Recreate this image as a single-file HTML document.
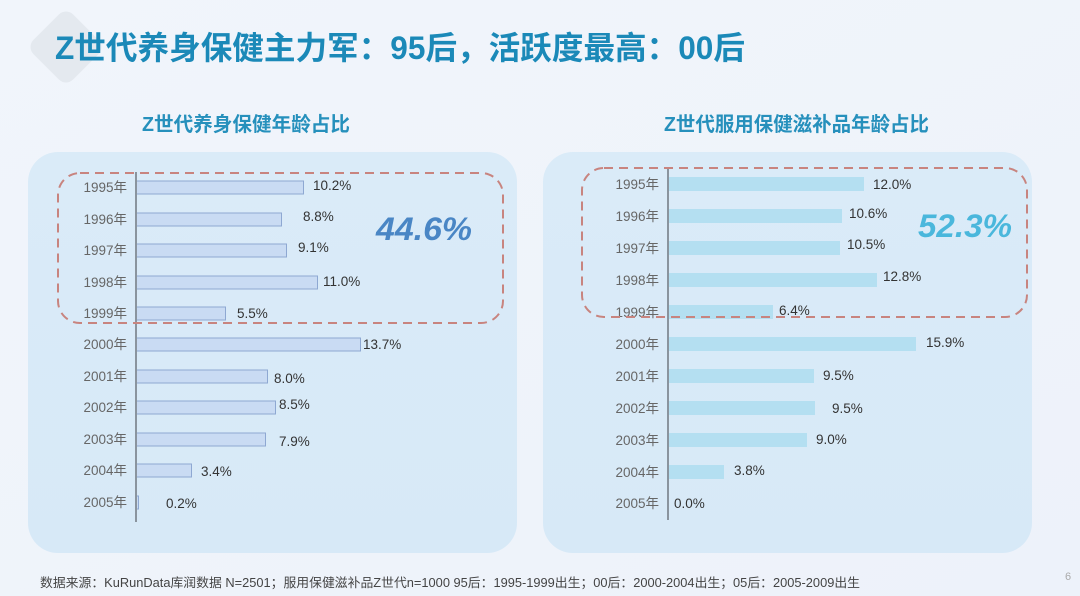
<!DOCTYPE html>
<html><head><meta charset="utf-8">
<style>
html,body{margin:0;padding:0;background:#eef3fa;}
svg{display:block;}
text{font-family:"Liberation Sans","Noto Sans CJK SC",sans-serif;}
</style></head>
<body>
<svg width="1080" height="596" viewBox="0 0 1080 596" xmlns="http://www.w3.org/2000/svg">
<defs>
<linearGradient id="bg" x1="0" y1="0" x2="1" y2="1">
<stop offset="0" stop-color="#f1f5fb"/><stop offset="1" stop-color="#edf2fa"/>
</linearGradient>
<linearGradient id="pn" x1="0" y1="0" x2="0" y2="1">
<stop offset="0" stop-color="#daebf8"/><stop offset="1" stop-color="#d7e9f7"/>
</linearGradient>
</defs>
<rect x="0" y="0" width="1080" height="596" fill="url(#bg)"/>
<!-- diamond deco -->
<rect x="38" y="19" width="56" height="56" rx="10" fill="#e4e9ef" transform="rotate(45 66 47)"/>
<!-- title -->
<text x="55" y="59" font-size="32" font-weight="bold" fill="#1b89b8" textLength="690" lengthAdjust="spacingAndGlyphs">Z世代养身保健主力军：95后，活跃度最高：00后</text>
<!-- subtitles -->
<text x="142" y="131" font-size="20" font-weight="bold" fill="#2690bc" textLength="208" lengthAdjust="spacingAndGlyphs">Z世代养身保健年龄占比</text>
<text x="664" y="131" font-size="20" font-weight="bold" fill="#2690bc" textLength="265" lengthAdjust="spacingAndGlyphs">Z世代服用保健滋补品年龄占比</text>
<!-- panels -->
<rect x="28" y="152" width="489" height="401" rx="30" fill="url(#pn)"/>
<rect x="543" y="152" width="489" height="401" rx="30" fill="url(#pn)"/>

<!-- LEFT CHART -->
<g font-size="13.5" fill="#666" text-anchor="end">
<text x="127" y="192">1995年</text>
<text x="127" y="224">1996年</text>
<text x="127" y="255">1997年</text>
<text x="127" y="287">1998年</text>
<text x="127" y="318">1999年</text>
<text x="127" y="349">2000年</text>
<text x="127" y="381">2001年</text>
<text x="127" y="412">2002年</text>
<text x="127" y="444">2003年</text>
<text x="127" y="475">2004年</text>
<text x="127" y="507">2005年</text>
</g>
<g fill="#c9dbf3" stroke="#8ea8d2" stroke-width="1">
<rect x="136.5" y="181" width="167" height="13"/>
<rect x="136.5" y="213" width="145" height="13"/>
<rect x="136.5" y="244" width="150" height="13"/>
<rect x="136.5" y="276" width="181" height="13"/>
<rect x="136.5" y="307" width="89" height="13"/>
<rect x="136.5" y="338" width="224" height="13"/>
<rect x="136.5" y="370" width="131" height="13"/>
<rect x="136.5" y="401" width="139" height="13"/>
<rect x="136.5" y="433" width="129" height="13"/>
<rect x="136.5" y="464" width="55" height="13"/>
<rect x="136.5" y="496" width="2" height="13"/>
</g>
<line x1="136" y1="172" x2="136" y2="522" stroke="#8a949e" stroke-width="2"/>
<g font-size="13.5" fill="#333">
<text x="313" y="190">10.2%</text>
<text x="303" y="221">8.8%</text>
<text x="298" y="252">9.1%</text>
<text x="323" y="286">11.0%</text>
<text x="237" y="318">5.5%</text>
<text x="363" y="349">13.7%</text>
<text x="274" y="383">8.0%</text>
<text x="279" y="409">8.5%</text>
<text x="279" y="446">7.9%</text>
<text x="201" y="476">3.4%</text>
<text x="166" y="508">0.2%</text>
</g>
<rect x="58" y="173" width="445" height="150" rx="22" fill="none" stroke="#c8847f" stroke-width="2" stroke-dasharray="9 6"/>
<text x="376" y="240" font-size="32" font-weight="bold" font-style="italic" fill="#4a86c5" textLength="96" lengthAdjust="spacingAndGlyphs">44.6%</text>

<!-- RIGHT CHART -->
<g font-size="13.5" fill="#666" text-anchor="end">
<text x="659" y="189">1995年</text>
<text x="659" y="221">1996年</text>
<text x="659" y="253">1997年</text>
<text x="659" y="285">1998年</text>
<text x="659" y="317">1999年</text>
<text x="659" y="349">2000年</text>
<text x="659" y="381">2001年</text>
<text x="659" y="413">2002年</text>
<text x="659" y="445">2003年</text>
<text x="659" y="477">2004年</text>
<text x="659" y="508">2005年</text>
</g>
<g fill="#b4dff1">
<rect x="669" y="177" width="195" height="14"/>
<rect x="669" y="209" width="173" height="14"/>
<rect x="669" y="241" width="171" height="14"/>
<rect x="669" y="273" width="208" height="14"/>
<rect x="669" y="305" width="104" height="14"/>
<rect x="669" y="337" width="247" height="14"/>
<rect x="669" y="369" width="145" height="14"/>
<rect x="669" y="401" width="146" height="14"/>
<rect x="669" y="433" width="138" height="14"/>
<rect x="669" y="465" width="55" height="14"/>
</g>
<line x1="668" y1="168" x2="668" y2="520" stroke="#8a949e" stroke-width="2"/>
<g font-size="13.5" fill="#333">
<text x="873" y="189">12.0%</text>
<text x="849" y="218">10.6%</text>
<text x="847" y="249">10.5%</text>
<text x="883" y="281">12.8%</text>
<text x="779" y="315">6.4%</text>
<text x="926" y="347">15.9%</text>
<text x="823" y="380">9.5%</text>
<text x="832" y="413">9.5%</text>
<text x="816" y="444">9.0%</text>
<text x="734" y="475">3.8%</text>
<text x="674" y="508">0.0%</text>
</g>
<rect x="582" y="168" width="445" height="149" rx="22" fill="none" stroke="#c8847f" stroke-width="2" stroke-dasharray="9 6"/>
<text x="918" y="237" font-size="32" font-weight="bold" font-style="italic" fill="#4ab7dc" textLength="94" lengthAdjust="spacingAndGlyphs">52.3%</text>

<!-- footer -->
<text x="40" y="587" font-size="12.5" fill="#444" textLength="820" lengthAdjust="spacingAndGlyphs">数据来源：KuRunData库润数据 N=2501；服用保健滋补品Z世代n=1000  95后：1995-1999出生；00后：2000-2004出生；05后：2005-2009出生</text>
<text x="1065" y="580" font-size="11" fill="#aaa">6</text>
</svg>
</body></html>
